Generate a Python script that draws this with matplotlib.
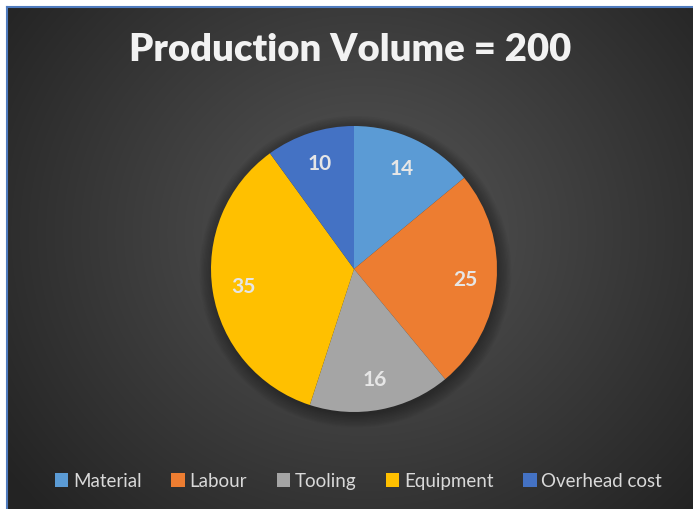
import numpy as np
import matplotlib.pyplot as plt
from matplotlib.patches import Patch

categories = ["Material", "Labour", "Tooling", "Equipment", "Overhead cost"]
values = [14, 25, 16, 35, 10]
colors = ["#5B9BD5", "#ED7D31", "#A5A5A5", "#FFC000", "#4472C4"]
title = "Production Volume = 200"

plt.rcParams['font.family'] = ['Lato', 'DejaVu Sans']

W, H = 693, 510
fig = plt.figure(figsize=(W / 100, H / 100), dpi=100, facecolor="white")

# dark background with radial gradient
left, top = 7, 8
bg = fig.add_axes([left / W, 0, (W - left) / W, (H - top) / H])
yy, xx = np.mgrid[0:H - top, 0:W - left]
cx, cy = (W - left) * 0.52, (H - top) * 0.45
r = np.sqrt((xx - cx) ** 2 + ((yy - cy) * 1.1) ** 2) / 420
shade = np.clip(0.34 - 0.19 * r, 0.14, 0.34)
bg.imshow(np.dstack([shade] * 3), aspect="auto", interpolation="bilinear")
bg.set_xticks([])
bg.set_yticks([])
for s in ["bottom", "right"]:
    bg.spines[s].set_visible(False)
for s in ["top", "left"]:
    bg.spines[s].set_color("#4F7BBE")
    bg.spines[s].set_linewidth(1.5)

# pie
pcx, pcy, rad = 354, 270, 143
ax = fig.add_axes([(pcx - rad) / W, (H - pcy - rad) / H, 2 * rad / W, 2 * rad / H])
ax.set_facecolor("none")
# soft shadow
for k in range(10):
    c = plt.Circle((0.01, -0.02), 1.0 + 0.01 * k, color="black",
                   alpha=0.035, lw=0, zorder=0)
    c.set_clip_on(False)
    ax.add_patch(c)
wedges, _ = ax.pie(values, colors=colors, startangle=90, counterclock=False,
                   radius=1.0, wedgeprops=dict(linewidth=0))
for w, v in zip(wedges, values):
    ang = np.deg2rad((w.theta1 + w.theta2) / 2)
    ax.text(0.78 * np.cos(ang), 0.78 * np.sin(ang), str(v), ha="center",
            va="center", color="#E6E6E6", fontsize=15, fontweight="bold")
ax.set_xlim(-1, 1)
ax.set_ylim(-1, 1)
ax.set_aspect("equal")
ax.axis("off")

fig.text(0.5 + 4 / W, 1 - 50 / H, title, ha="center", va="center",
         color="#F2F2F2", fontsize=27.5, fontweight="heavy")

handles = [Patch(facecolor=c, edgecolor="none") for c in colors]
leg = fig.legend(handles, categories, loc="center", ncol=5,
                 bbox_to_anchor=(0.5 + 12 / W, 28 / H), frameon=False,
                 fontsize=13.5, handlelength=0.7, handleheight=0.7,
                 handletextpad=0.25, columnspacing=1.6)
for t in leg.get_texts():
    t.set_color("#D9D9D9")

fig.savefig("out.png", dpi=100, facecolor="white")
